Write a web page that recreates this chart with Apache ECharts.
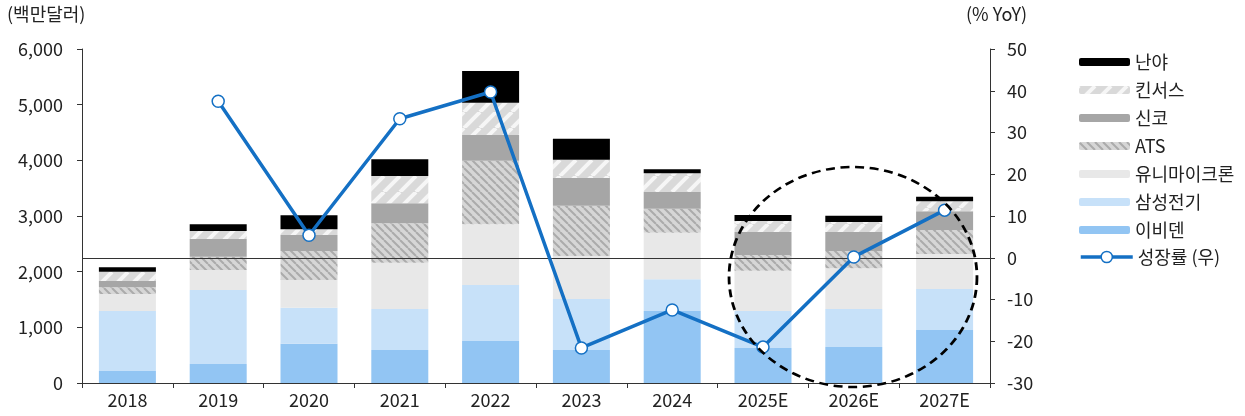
<!DOCTYPE html>
<html><head><meta charset="utf-8">
<script src="https://cdn.jsdelivr.net/npm/echarts@6/dist/echarts.min.js"></script>
<style>html,body{margin:0;padding:0;background:#fff}#c{width:1245px;height:416px}</style>
</head><body><div id="c"></div>
<script>
const categories = ['2018','2019','2020','2021','2022','2023','2024','2025E','2026E','2027E'];
const ibiden    = [216, 341, 706, 593, 754, 593, 1293, 629, 647, 952];
const samsung   = [1078, 1330, 647, 736, 1006, 916, 570, 664, 682, 737];
const unimicron = [305, 359, 497, 832, 1091, 772, 837, 724, 731, 628];
const ats       = [120, 239, 521, 708, 1142, 904, 431, 282, 311, 431];
const shinko    = [113, 318, 288, 359, 462, 497, 300, 413, 341, 336];
const kinsus    = [167, 143, 102, 490, 580, 329, 336, 198, 180, 180];
const nanya     = [79, 121, 251, 300, 569, 377, 72, 108, 113, 83];
const growth    = [null, 37.5, 5.4, 33.3, 39.7, -21.6, -12.5, -21.4, 0.2, 11.4];
const leftTicks = {min: 0, max: 6000, interval: 1000};
const rightTicks = {min: -30, max: 50, interval: 10};

function stripe(size, base, line, width, dir) {
  const c = document.createElement('canvas');
  c.width = size; c.height = size;
  const g = c.getContext('2d');
  g.fillStyle = base; g.fillRect(0, 0, size, size);
  g.strokeStyle = line; g.lineWidth = width;
  for (let k = -1; k <= 1; k++) {
    g.beginPath();
    if (dir > 0) { g.moveTo(k*size, size); g.lineTo(k*size + size, 0); }
    else { g.moveTo(k*size, 0); g.lineTo(k*size + size, size); }
    g.stroke();
  }
  return {image: c, repeat: 'repeat'};
}
const kinsusPat = stripe(16, '#d9d9d9', 'rgba(255,255,255,0.75)', 4, 1);
const atsPat = stripe(8, '#d6d6d6', '#ababab', 2, -1);

const font = '"Noto Sans CJK KR", "Noto Sans", sans-serif';
const chart = echarts.init(document.getElementById('c'));
function bar(name, data, color) {
  return {name, type: 'bar', stack: 't', data, barWidth: 57, itemStyle: {color}, z: 2};
}
const legendText = {fontSize: 18, color: '#222', lineHeight: 20, fontFamily: font};
chart.setOption({
  animation: false,
  textStyle: {fontFamily: font},
  grid: {left: 82, right: 255, top: 49, bottom: 33},
  legend: [{
    orient: 'vertical', left: 1079, top: 52, padding: 0,
    itemWidth: 51, itemHeight: 8, itemGap: 8,
    textStyle: legendText,
    data: ['난야','킨서스','신코','ATS','유니마이크론','삼성전기','이비덴']
  }, {
    orient: 'vertical', left: 1079, top: 247, padding: 0,
    itemWidth: 52, itemHeight: 14,
    textStyle: legendText,
    data: [{name: '성장률 (우)', lineStyle: {width: 3.5, color: '#1470c4'},
            itemStyle: {color: '#fff', borderColor: '#1470c4', borderWidth: 1.5}}]
  }],
  xAxis: {
    type: 'category', data: categories,
    axisLine: {lineStyle: {color: '#333'}},
    axisTick: {show: true, length: 5, lineStyle: {color: '#333'}},
    axisLabel: {fontSize: 18, color: '#222', margin: 8}
  },
  yAxis: [
    {type: 'value', min: leftTicks.min, max: leftTicks.max, interval: leftTicks.interval,
     axisLine: {show: true, lineStyle: {color: '#333'}},
     axisTick: {show: true, length: 5, lineStyle: {color: '#333'}},
     splitLine: {show: false},
     axisLabel: {fontSize: 18, color: '#222', margin: 19, formatter: v => v.toLocaleString('en-US')}},
    {type: 'value', min: rightTicks.min, max: rightTicks.max, interval: rightTicks.interval,
     axisLine: {show: true, lineStyle: {color: '#333'}},
     axisTick: {show: true, length: 5, lineStyle: {color: '#333'}},
     splitLine: {show: false},
     axisLabel: {fontSize: 18, color: '#222', margin: 17}}
  ],
  series: [
    bar('이비덴', ibiden, '#92c5f3'),
    bar('삼성전기', samsung, '#c7e1f9'),
    bar('유니마이크론', unimicron, '#e8e8e8'),
    bar('ATS', ats, atsPat),
    bar('신코', shinko, '#a6a6a6'),
    bar('킨서스', kinsus, kinsusPat),
    bar('난야', nanya, '#000000'),
    {name: '성장률 (우)', type: 'line', yAxisIndex: 1, data: growth, z: 5,
     lineStyle: {color: '#1470c4', width: 3.5}, color: '#1470c4',
     symbol: 'circle', symbolSize: 12,
     itemStyle: {color: '#ffffff', borderColor: '#1470c4', borderWidth: 1.5},
     markLine: {silent: true, symbol: 'none', label: {show: false},
       lineStyle: {color: '#333', width: 1, type: 'solid'},
       data: [{yAxis: 0}]}}
  ],
  graphic: [
    {type: 'text', left: 7, top: 5, style: {text: '(백만달러)', fontSize: 18, fill: '#222', fontFamily: font}},
    {type: 'text', left: 966, top: 5, style: {text: '(% YoY)', fontSize: 18, fill: '#222', fontFamily: font}},
    {type: 'circle', x: 853, y: 277, scaleX: 1.127, scaleY: 1, z: 100,
     shape: {cx: 0, cy: 0, r: 110},
     style: {fill: 'none', stroke: '#000', lineWidth: 2.5, lineDash: [8, 5]}}
  ]
});
</script></body></html>
